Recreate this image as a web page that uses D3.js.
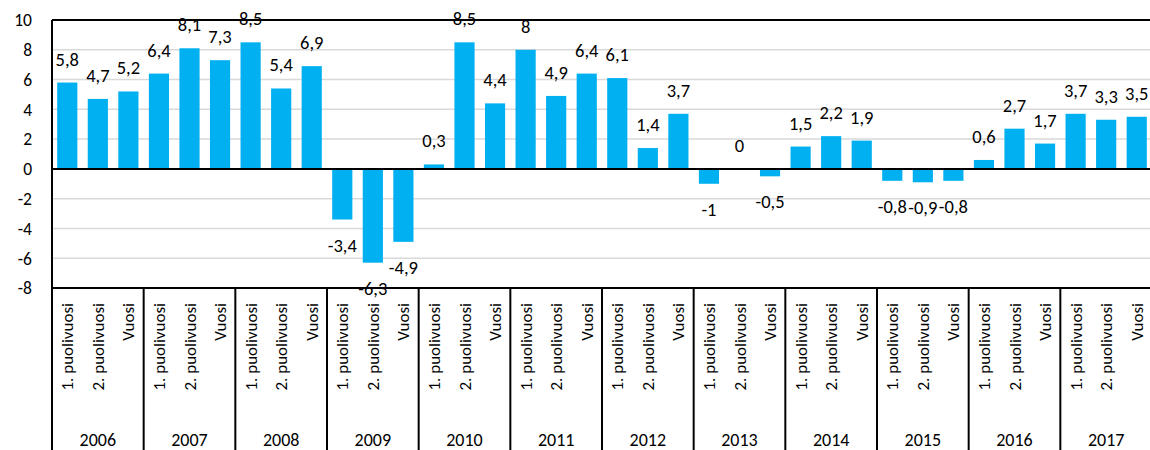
<!DOCTYPE html>
<html>
<head>
<meta charset="utf-8">
<script src="https://cdn.jsdelivr.net/npm/d3@7"></script>
<style>
  body { margin: 0; background: #fff; }
  svg text { font-family: Carlito, Calibri, Lato, sans-serif; fill: #000; }
</style>
</head>
<body>
<svg></svg>
<script>
// Data
var years = ["2006", "2007", "2008", "2009", "2010", "2011", "2012", "2013", "2014", "2015", "2016", "2017"];
var periods = ["1. puolivuosi", "2. puolivuosi", "Vuosi"];
var values = [
  5.8, 4.7, 5.2,
  6.4, 8.1, 7.3,
  8.5, 5.4, 6.9,
  -3.4, -6.3, -4.9,
  0.3, 8.5, 4.4,
  8, 4.9, 6.4,
  6.1, 1.4, 3.7,
  -1, 0, -0.5,
  1.5, 2.2, 1.9,
  -0.8, -0.9, -0.8,
  0.6, 2.7, 1.7,
  3.7, 3.3, 3.5
];
var yTicks = [-8, -6, -4, -2, 0, 2, 4, 6, 8, 10];

var width = 1150, height = 450;
var plotLeft = 52, plotRight = 1152, plotTop = 20, plotBottom = 288;

var svg = d3.select("svg")
  .attr("width", width)
  .attr("height", height);

// one entry per bar
var rows = [];
years.forEach(function(yr, i) {
  periods.forEach(function(p, j) {
    rows.push({ key: yr + "|" + p, year: yr, period: p, value: values[i * 3 + j] });
  });
});

var x = d3.scaleBand()
  .domain(rows.map(function(d) { return d.key; }))
  .range([plotLeft, plotRight])
  .paddingInner(0.34)
  .paddingOuter(0.17);

var xYear = d3.scaleBand()
  .domain(years)
  .range([plotLeft, plotRight]);

var y = d3.scaleLinear()
  .domain([-8, 10])
  .range([plotBottom, plotTop]);

var fi = d3.formatLocale({ decimal: ",", thousands: " ", grouping: [3], currency: ["", "€"], minus: "-" });
var fmt = function(v) { return fi.format(",")(v); };

// Gridlines
svg.append("g")
  .selectAll("line")
  .data(yTicks.filter(function(t) { return t !== 0 && t !== 10 && t !== -8; }))
  .enter().append("line")
  .attr("x1", plotLeft)
  .attr("x2", plotRight)
  .attr("y1", function(d) { return y(d); })
  .attr("y2", function(d) { return y(d); })
  .attr("stroke", "#d9d9d9")
  .attr("stroke-width", 1.5);

// Y axis labels
svg.append("g")
  .selectAll("text")
  .data(yTicks)
  .enter().append("text")
  .attr("x", 32)
  .attr("y", function(d) { return y(d); })
  .attr("dy", "0.36em")
  .attr("text-anchor", "end")
  .style("font-size", "17.5px")
  .text(function(d) { return fmt(d); });

// Bars
svg.append("g")
  .selectAll("rect")
  .data(rows)
  .enter().append("rect")
  .attr("x", function(d) { return x(d.key); })
  .attr("width", x.bandwidth())
  .attr("y", function(d) { return y(Math.max(0, d.value)); })
  .attr("height", function(d) { return Math.abs(y(d.value) - y(0)); })
  .attr("fill", "#00b0f0");

// Value labels
svg.append("g")
  .selectAll("text")
  .data(rows)
  .enter().append("text")
  .attr("x", function(d) { return x(d.key) + x.bandwidth() / 2; })
  .attr("y", function(d) { return d.value >= 0 ? y(d.value) - 17 : y(d.value) + 32; })
  .attr("text-anchor", "middle")
  .style("font-size", "18.5px")
  .text(function(d) { return fmt(d.value); });

// Frame: top, zero line, bottom, left
var frame = svg.append("g").attr("stroke", "#000").attr("stroke-width", 2);
frame.append("line").attr("x1", plotLeft).attr("x2", plotRight).attr("y1", y(10)).attr("y2", y(10));
frame.append("line").attr("x1", plotLeft).attr("x2", plotRight).attr("y1", y(0)).attr("y2", y(0));
frame.append("line").attr("x1", plotLeft).attr("x2", plotRight).attr("y1", y(-8)).attr("y2", y(-8));
frame.append("line").attr("x1", plotLeft).attr("x2", plotLeft).attr("y1", y(10)).attr("y2", height);

// Year separators
frame.selectAll(".sep")
  .data(years)
  .enter().append("line")
  .attr("class", "sep")
  .attr("x1", function(d) { return xYear(d) + xYear.bandwidth(); })
  .attr("x2", function(d) { return xYear(d) + xYear.bandwidth(); })
  .attr("y1", plotBottom)
  .attr("y2", height);

// Period labels (rotated)
svg.append("g")
  .selectAll("text")
  .data(rows)
  .enter().append("text")
  .attr("transform", function(d) {
    return "translate(" + (x(d.key) + x.bandwidth() / 2 + 6) + "," + (plotBottom + 15) + ") rotate(-90)";
  })
  .attr("text-anchor", "end")
  .style("font-size", "17px")
  .text(function(d) { return d.period; });

// Year labels
svg.append("g")
  .selectAll("text")
  .data(years)
  .enter().append("text")
  .attr("x", function(d) { return xYear(d) + xYear.bandwidth() / 2; })
  .attr("y", 446)
  .attr("text-anchor", "middle")
  .style("font-size", "18px")
  .text(function(d) { return d; });
</script>
</body>
</html>
